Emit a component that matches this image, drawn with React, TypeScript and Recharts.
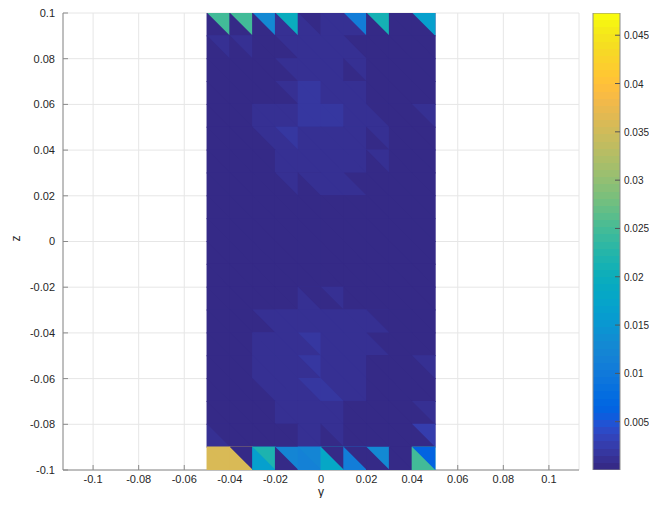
import { ScatterChart, Scatter, XAxis, YAxis, CartesianGrid, BarChart, Bar } from "recharts";

// mesh cell centres (y across, z down from the top row)
const Y_CENTERS = [-0.045, -0.035, -0.025, -0.015, -0.005, 0.005, 0.015, 0.025, 0.035, 0.045];
const Z_CENTERS = [
  0.095, 0.085, 0.075, 0.065, 0.055, 0.045, 0.035, 0.025, 0.015, 0.005,
  -0.005, -0.015, -0.025, -0.035, -0.045, -0.055, -0.065, -0.075, -0.085, -0.095,
];
const CELL = 0.01;

const X_TICKS = [-0.1, -0.08, -0.06, -0.04, -0.02, 0, 0.02, 0.04, 0.06, 0.08, 0.1];
const Z_TICKS = [-0.1, -0.08, -0.06, -0.04, -0.02, 0, 0.02, 0.04, 0.06, 0.08, 0.1];
const CB_TICKS = [0.005, 0.01, 0.015, 0.02, 0.025, 0.03, 0.035, 0.04, 0.045];

// base levels
const B = 0.0002;
const A = 0.0011;
const C = 0.0019;

// lower-left triangle of each cell
const LOWER_TRI = [
  [B, B, B, A, A, A, A, B, B, B],
  [B, B, B, B, A, A, A, B, B, B],
  [B, B, B, B, A, A, B, B, B, B],
  [B, B, B, B, C, A, A, B, B, B],
  [B, B, A, A, C, C, A, A, B, B],
  [B, B, B, A, A, A, A, B, B, B],
  [B, B, B, A, A, A, A, B, B, B],
  [B, B, B, B, B, A, A, B, B, B],
  [B, B, B, B, B, B, B, B, B, B],
  [B, B, B, B, B, B, B, B, B, B],
  [B, B, B, B, B, B, B, B, B, B],
  [B, B, B, B, B, B, B, B, B, B],
  [B, B, B, B, A, B, B, B, B, B],
  [B, B, B, A, A, A, A, A, B, B],
  [B, B, A, A, A, A, A, A, B, B],
  [B, B, A, A, A, A, A, B, B, B],
  [B, B, B, A, A, C, A, B, B, B],
  [B, B, B, A, A, A, B, B, B, B],
  [A, B, B, B, A, B, B, B, B, B],
  [0.0359, 0.0359, 0.0166, B, 0.0115, 0.0181, 0.0107, B, B, 0.0248],
];

// upper-right triangle of each cell
const UPPER_TRI = [
  [0.0248, 0.0248, 0.0129, 0.0196, B, A, 0.0107, 0.0211, B, 0.0166],
  [A, A, B, A, A, A, B, B, B, B],
  [B, B, B, A, A, A, A, B, B, B],
  [B, B, B, A, C, A, A, B, B, B],
  [B, B, A, A, C, C, A, B, B, A],
  [B, B, A, C, A, A, A, A, B, B],
  [B, B, B, A, A, A, A, A, B, B],
  [B, B, B, A, A, A, B, B, B, B],
  [B, B, B, B, B, B, B, B, B, B],
  [B, B, B, B, B, B, B, B, B, B],
  [B, B, B, B, B, B, B, B, B, B],
  [B, B, B, B, B, B, B, B, B, B],
  [B, B, B, B, B, A, B, B, B, B],
  [B, B, A, A, A, A, A, B, B, B],
  [B, B, A, A, C, A, A, B, B, B],
  [B, B, A, A, C, A, A, B, B, A],
  [B, B, A, A, C, A, A, B, B, B],
  [B, B, B, A, A, A, B, B, B, A],
  [B, B, B, B, A, A, B, B, B, 0.0027],
  [0.0359, B, 0.0218, 0.0122, 0.0122, B, B, 0.0129, B, 0.0063],
];

const C_MIN = 0;
const C_MAX = 0.0473;
const X_MIN = -0.1132;
const X_MAX = 0.1132;

const PARULA = [
  "#352a87", "#363093", "#3637a0", "#353dad", "#3243ba", "#2c4ac7", "#2053d4", "#0f5cdd",
  "#0363e1", "#0268e1", "#046de0", "#0871de", "#0d75dc", "#1079da", "#127dd8", "#1481d6",
  "#1485d4", "#1389d3", "#108ed2", "#0c93d2", "#0998d1", "#079ccf", "#06a0cd", "#06a4ca",
  "#06a7c6", "#07a9c2", "#0aacbe", "#0faeb9", "#15b1b4", "#1db3af", "#25b5a9", "#2eb7a4",
  "#38b99e", "#42bb98", "#4dbc92", "#59bd8c", "#65be86", "#71bf80", "#7cbf7b", "#87bf77",
  "#92bf73", "#9cbf6f", "#a5be6b", "#aebe67", "#b7bd64", "#c0bc60", "#c8bc5d", "#d1bb59",
  "#d9ba56", "#e1b952", "#e9b94e", "#f1b94a", "#f8bb44", "#fdbe3d", "#ffc337", "#fec832",
  "#fcce2e", "#fad32a", "#f7d826", "#f5de21", "#f5e41d", "#f5eb18", "#f6f313", "#f9fb0e",
];

const colorOf = (v: number) => {
  const i = Math.floor(((v - C_MIN) / (C_MAX - C_MIN)) * PARULA.length);
  return PARULA[Math.max(0, Math.min(PARULA.length - 1, i))];
};

const CHART_W = 641;
const CHART_H = 490;
const Y_AXIS_W = 55;
const X_AXIS_H = 28;
const MARGIN = { top: 5, right: 70, bottom: 0, left: 0 };
const PLOT_W = CHART_W - Y_AXIS_W - MARGIN.left - MARGIN.right;
const PLOT_H = CHART_H - X_AXIS_H - MARGIN.top - MARGIN.bottom;
const CELL_W = (PLOT_W * CELL) / (X_MAX - X_MIN);
const CELL_H = (PLOT_H * CELL) / (Z_TICKS[Z_TICKS.length - 1] - Z_TICKS[0]);

const FONT = "'Liberation Sans', Arial, Helvetica, sans-serif";
const TEXT = "#262626";
const AXIS = "#8a8a8a";

const cells = Z_CENTERS.flatMap((z, r) =>
  Y_CENTERS.map((y, c) => ({ y, z, lo: LOWER_TRI[r][c], up: UPPER_TRI[r][c] }))
);

const fmt = (v: number) => String(Number(v.toFixed(4)));

// one mesh cell: filled square in the lower colour, upper-right triangle on top
const TriCell = (props: any) => {
  const { cx, cy, payload } = props;
  const x0 = cx - CELL_W / 2;
  const x1 = cx + CELL_W / 2;
  const y0 = cy - CELL_H / 2;
  const y1 = cy + CELL_H / 2;
  const pad = 0.5;
  return (
    <g>
      <rect x={x0 - pad} y={y0 - pad} width={CELL_W + 2 * pad} height={CELL_H + 2 * pad} fill={colorOf(payload.lo)} />
      <polygon
        points={`${x0 - 0.2},${y0 - pad} ${x1 + pad},${y0 - pad} ${x1 + pad},${y1 + 0.2}`}
        fill={colorOf(payload.up)}
      />
    </g>
  );
};

// colour-bar tick labels, written out so they are not rounded
const CbTick = (props: any) => {
  const { x, y, payload } = props;
  return (
    <text x={x} y={y} dy={4} textAnchor="start" fill={TEXT} fontSize={10} fontFamily={FONT}>
      {fmt(payload.value)}
    </text>
  );
};

function Colorbar() {
  const stops: { off: number; color: string }[] = [];
  PARULA.forEach((color, i) => {
    stops.push({ off: i / PARULA.length, color });
    stops.push({ off: (i + 1) / PARULA.length, color });
  });
  return (
    <BarChart
      width={54}
      height={470}
      data={[{ name: "c", v: C_MAX }]}
      margin={{ top: 5, right: 0, bottom: 8, left: 0 }}
      barCategoryGap={0}
    >
      <defs>
        <linearGradient id="parulaGrad" x1="0" y1="1" x2="0" y2="0">
          {stops.map((s, i) => (
            <stop key={i} offset={s.off} stopColor={s.color} />
          ))}
        </linearGradient>
      </defs>
      <XAxis dataKey="name" hide />
      <YAxis
        orientation="right"
        width={27}
        type="number"
        domain={[C_MIN, C_MAX]}
        ticks={CB_TICKS}
        allowDataOverflow
        axisLine={false}
        tickSize={-5}
        tickMargin={9}
        tickLine={{ stroke: "#555" }}
        tick={<CbTick />}
        interval={0}
      />
      <Bar dataKey="v" fill="url(#parulaGrad)" stroke="#8c8c8c" strokeWidth={1} isAnimationActive={false} />
    </BarChart>
  );
}

export default function App() {
  return (
    <div style={{ position: "relative", width: CHART_W, height: CHART_H, fontFamily: FONT }}>
      <style>{".recharts-wrapper, .recharts-surface { overflow: visible !important; }"}</style>
      <ScatterChart width={CHART_W} height={CHART_H} margin={MARGIN}>
        <CartesianGrid stroke="#e6e6e6" />
        <XAxis
          type="number"
          dataKey="y"
          domain={[X_MIN, X_MAX]}
          ticks={X_TICKS}
          allowDataOverflow
          height={X_AXIS_H}
          interval={0}
          axisLine={{ stroke: AXIS }}
          tickLine={{ stroke: AXIS }}
          tickSize={-5}
          tickMargin={10}
          tick={{ fill: TEXT, fontSize: 11, fontFamily: FONT }}
          tickFormatter={fmt}
          label={{ value: "y", position: "insideBottom", offset: 2, fill: TEXT, fontSize: 12, fontFamily: FONT }}
        />
        <YAxis
          type="number"
          dataKey="z"
          domain={[Z_TICKS[0], Z_TICKS[Z_TICKS.length - 1]]}
          ticks={Z_TICKS}
          allowDataOverflow
          width={Y_AXIS_W}
          interval={0}
          axisLine={{ stroke: AXIS }}
          tickLine={{ stroke: AXIS }}
          tickSize={-5}
          tickMargin={13}
          tick={{ fill: TEXT, fontSize: 11, fontFamily: FONT }}
          tickFormatter={fmt}
          label={{ value: "z", angle: -90, position: "insideLeft", offset: 8, fill: TEXT, fontSize: 12, fontFamily: FONT }}
        />
        <Scatter data={cells} shape={TriCell} isAnimationActive={false} />
      </ScatterChart>
      <div style={{ position: "absolute", left: 585, top: 0 }}>
        <Colorbar />
      </div>
    </div>
  );
}
